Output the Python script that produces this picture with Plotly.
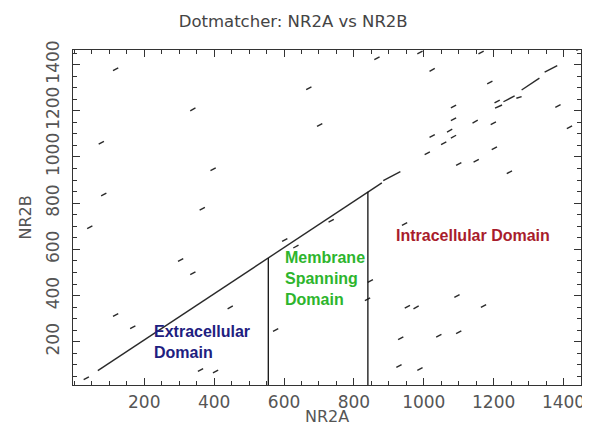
import plotly.graph_objects as go

# ---- data (residue positions) ----
# short match dashes: centre positions (NR2A, NR2B)
dash_x = [118, 339, 77, 397, 84, 366, 671, 702, 866, 989, 1024, 1164, 1189, 1085,
          1085, 1147, 1199, 1074, 1085, 1024, 1057, 1010, 1202, 1100, 1150, 1245,
          1384, 1417, 1444, 1210, 44, 304, 339, 602, 634, 446, 118, 167, 576, 34,
          361, 404, 735, 945, 847, 839, 953, 978, 1095, 1171, 934, 1043, 1100, 929, 989]
dash_y = [1380, 1206, 1062, 947, 838, 776, 1297, 1138, 1427, 1452, 1377, 1452, 1322, 1218,
          1163, 1153, 1146, 1114, 1088, 1091, 1059, 1016, 1038, 970, 984, 934,
          1221, 1129, 1467, 1240, 696, 554, 497, 641, 612, 349, 316, 263, 251, 42,
          78, 71, 724, 710, 463, 384, 352, 349, 398, 355, 215, 226, 241, 95, 82]
dash_len = 15  # residues covered by one short match

# longer diagonal match runs: start / end (NR2A, NR2B)
run_x0 = [67, 884, 1204, 1228, 1265, 1280, 1346]
run_y0 = [75, 898, 1211, 1239, 1254, 1290, 1367]
run_x1 = [880, 933, 1224, 1260, 1280, 1331, 1382]
run_y1 = [888, 937, 1225, 1264, 1261, 1341, 1395]

# domain boundaries on NR2A and where each meets the diagonal
boundary_x = [555, 840]
boundary_top = [563, 849]

x_ticks = [200, 400, 600, 800, 1000, 1200, 1400]
y_ticks = [200, 400, 600, 800, 1000, 1200, 1400]

# ---- build traces ----
lx, ly = [], []
half = dash_len / 2
for cx, cy in zip(dash_x, dash_y):
    lx += [cx - half, cx + half, None]
    ly += [cy - half * 0.8, cy + half * 0.8, None]
for a, b, c, d in zip(run_x0, run_y0, run_x1, run_y1):
    lx += [a, c, None]
    ly += [b, d, None]

bx, by = [], []
for x, t in zip(boundary_x, boundary_top):
    bx += [x, x, None]
    by += [0, t, None]

fig = go.Figure()
fig.add_trace(go.Scatter(x=lx, y=ly, mode="lines",
                         line=dict(color="#2a2a2a", width=1.4),
                         hoverinfo="skip", showlegend=False))
fig.add_trace(go.Scatter(x=bx, y=by, mode="lines",
                         line=dict(color="#111111", width=1.3),
                         hoverinfo="skip", showlegend=False))

label_font = "DejaVu Sans"
axis_common = dict(
    showgrid=False, zeroline=False, showline=True, linecolor="#333333", linewidth=1,
    mirror="ticks", ticks="inside", ticklen=7, tickwidth=1, tickcolor="#333333",
    tickfont=dict(family=label_font, size=17, color="#555555"),
    minor=dict(ticks="inside", ticklen=4, dtick=50, tickcolor="#333333", tickwidth=1),
)

# the page adds an 8px body margin, so the figure is drawn 8px smaller
W, H = 582, 417
fig.update_layout(
    width=W, height=H,
    margin=dict(l=65, r=5, t=42, b=40),
    paper_bgcolor="white", plot_bgcolor="white",
    title=dict(text="Dotmatcher: NR2A vs NR2B", x=0.49, xanchor="center",
               y=1 - 13 / H, yanchor="middle",
               font=dict(family=label_font, size=16.5, color="#444444")),
    xaxis=dict(range=[-4, 1450], tickvals=x_ticks, ticklabelstandoff=2, **axis_common),
    yaxis=dict(range=[13, 1463], tickvals=y_ticks, tickangle=-90, ticklabelstandoff=6,
               **axis_common),
)

fig.add_annotation(x=0.5, y=0, xref="paper", yref="paper", text="NR2A",
                   showarrow=False, xanchor="center", yanchor="middle", yshift=-31,
                   font=dict(family=label_font, size=16, color="#555555"))
fig.add_annotation(x=0, y=0.5, xref="paper", yref="paper", text="NR2B",
                   showarrow=False, xanchor="center", yanchor="middle", xshift=-48,
                   textangle=-90,
                   font=dict(family=label_font, size=16, color="#555555"))

text_font = "Liberation Sans"
fig.add_annotation(x=0.155, y=0.128, xref="paper", yref="paper",
                   text="<b>Extracellular<br>Domain</b>", showarrow=False,
                   xanchor="left", yanchor="middle", align="left",
                   font=dict(family=text_font, size=16, color="#1e2080"))
fig.add_annotation(x=0.414, y=0.317, xref="paper", yref="paper",
                   text="<b>Membrane<br>Spanning<br>Domain</b>", showarrow=False,
                   xanchor="left", yanchor="middle", align="left",
                   font=dict(family=text_font, size=16, color="#2db52d"))
fig.add_annotation(x=0.631, y=0.445, xref="paper", yref="paper",
                   text="<b>Intracellular Domain</b>", showarrow=False,
                   xanchor="left", yanchor="middle", align="left",
                   font=dict(family=text_font, size=16, color="#a81c2c"))

fig.write_html("out.html")
